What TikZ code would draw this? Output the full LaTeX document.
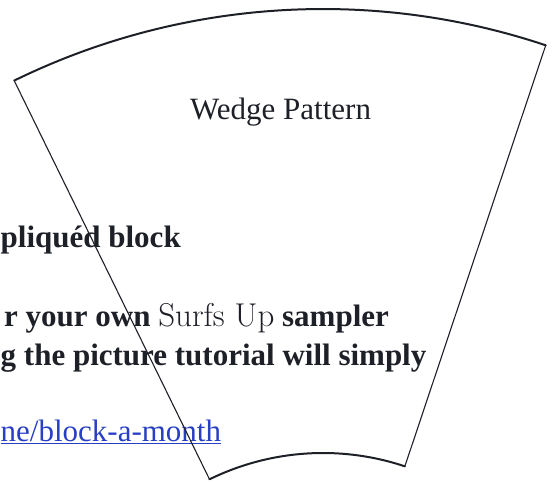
\documentclass[tikz,border=0pt]{standalone}
\usepackage{fontspec}
\setmainfont{Liberation Serif}
\usepackage{tikz}
\usetikzlibrary{calc}
\usetikzlibrary{positioning}

\definecolor{inkgray}{RGB}{30,32,40}
\definecolor{linkblue}{RGB}{40,62,196}
\newcommand{\surffont}{\fontfamily{lmr}\selectfont\mdseries}

\tikzset{
  arcline/.style={draw=inkgray,line width=2pt,line cap=round},
  sideline/.style={draw=inkgray,line width=1.1pt},
  pagetext/.style={inner sep=0pt,text=inkgray,font=\fontsize{31}{37}\selectfont\bfseries},
}

\begin{document}
\begin{tikzpicture}[x=1pt,y=1pt]
      \useasboundingbox (0,0) rectangle (558,482);
      \clip (0,0) rectangle (558,482);

      % text of the page behind the pattern
      \node (blockline) [pagetext,anchor=base west] at (0.5,234) {pliquéd block};
      \node (samplerline) [pagetext,anchor=base west] at (4,155) {r your own {\surffont\fontsize{33}{37}\selectfont Surfs Up} sampler};
      \node (tutorialline) [pagetext,anchor=base west] at (0.5,116) {g the picture tutorial will simply};
      \node (linkline) [inner sep=0pt,anchor=base west,text=linkblue,font=\fontsize{31}{37}\selectfont] at (0.5,40) {\underline{ne/block-a-month}};

      % the wedge
      \coordinate (centre) at (323,-229);
      \coordinate (tl) at ($(centre)+(116.1:702)$);
      \coordinate (tr) at ($(centre)+(71.5:702)$);
      \coordinate (bl) at ($(centre)+(116.1:258)$);
      \coordinate (br) at ($(centre)+(71.5:258)$);
      \draw[arcline] (tl) arc[start angle=116.1,end angle=71.5,radius=702];
      \draw[arcline] (bl) arc[start angle=116.1,end angle=71.5,radius=258];
      \draw[sideline] (tl) -- (bl);
      \draw[sideline] (tr) -- (br);

      \node (title) [inner sep=0pt,anchor=base west,text=inkgray,font=\fontsize{31}{37}\selectfont] at (190,362) {Wedge Pattern};
\end{tikzpicture}
\end{document}
